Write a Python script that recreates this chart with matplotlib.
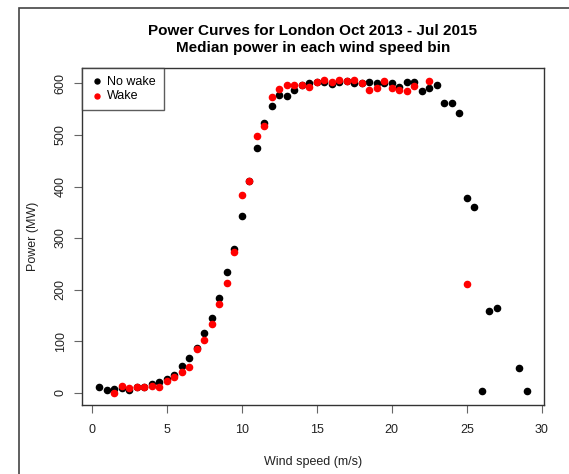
import numpy as np
import matplotlib
matplotlib.use('Agg')
import matplotlib.pyplot as plt
from matplotlib.patches import Rectangle

plt.rcParams['font.family'] = ['Liberation Sans', 'DejaVu Sans']

nan = np.nan

# wind speed bins (m/s)
wind = [0.5, 1.0, 1.5, 2.0, 2.5, 3.0, 3.5, 4.0, 4.5, 5.0,
        5.5, 6.0, 6.5, 7.0, 7.5, 8.0, 8.5, 9.0, 9.5, 10.0,
        10.5, 11.0, 11.5, 12.0, 12.5, 13.0, 13.5, 14.0, 14.5, 15.0,
        15.5, 16.0, 16.5, 17.0, 17.5, 18.0, 18.5, 19.0, 19.5, 20.0,
        20.5, 21.0, 21.5, 22.0, 22.5, 23.0, 23.5, 24.0, 24.5, 25.0,
        25.5, 26.0, 26.5, 27.0, 27.5, 28.0, 28.5, 29.0]

# median power, no wake (MW)
no_wake = [10, 6, 8, 9, 6, 10, 10, 16, 21, 26,
           34, 51, 68, 87, 115, 145, 184, 234, 279, 343,
           410, 475, 524, 556, 578, 575, 588, 597, 601, 603,
           603, 599, 603, 604, 600, 600, 603, 601, 601, 601,
           594, 603, 603, 586, 592, 597, 563, 562, 542, 377,
           361, 3, 158, 164, nan, nan, 48, 3]

# median power, wake (MW)
wake = [nan, nan, 0, 13, 9, 10, 10, 12, 10, 23,
        31, 41, 50, 85, 103, 133, 172, 213, 273, 383,
        410, 498, 517, 574, 590, 597, 597, 597, 594, 603,
        607, 602, 606, 604, 606, 600, 588, 591, 604, 592,
        587, 586, 596, nan, 604, nan, nan, nan, nan, 211,
        nan, nan, nan, nan, nan, nan, nan, nan]

fig = plt.figure(figsize=(5.69, 4.74), dpi=100)

# screenshot frame
fig.patches.append(Rectangle((19 / 569, -0.1), 1.2, (474 - 8) / 474 + 0.1,
                             transform=fig.transFigure, fill=False,
                             edgecolor='#444444', linewidth=1.2))

ax = fig.add_axes([82 / 569, (474 - 405) / 474, (544 - 82) / 569, (405 - 68) / 474])

ax.scatter(wind, no_wake, s=20, color='black', label='No wake', zorder=3)
ax.scatter(wind, wake, s=20, color='red', label='Wake', zorder=4)

ax.set_xlim(-0.64, 30.14)
ax.set_ylim(-24, 630)
ax.set_xticks([0, 5, 10, 15, 20, 25, 30])
ax.set_yticks([0, 100, 200, 300, 400, 500, 600])
ax.tick_params(direction='out', length=6, color='#666666', labelsize=9,
               labelcolor='#222222')
ax.tick_params(axis='x', pad=8)
ax.tick_params(axis='y', pad=5)
for lab in ax.get_yticklabels():
    lab.set_rotation(90)
    lab.set_va('center')
for s in ax.spines.values():
    s.set_color('#333333')
    s.set_linewidth(1.0)

ax.set_xlabel('Wind speed (m/s)', fontsize=9, color='#222222', labelpad=14)
ax.set_ylabel('Power (MW)', fontsize=9, color='#222222', labelpad=11)

fig.text(0.5 * (82 + 544) / 569, 1 - 31 / 474, 'Power Curves for London Oct 2013 - Jul 2015',
         ha='center', va='center', fontsize=11, fontweight='bold')
fig.text(0.5 * (82 + 544) / 569, 1 - 48 / 474, 'Median power in each wind speed bin',
         ha='center', va='center', fontsize=11, fontweight='bold')

leg = ax.legend(loc='upper left', borderaxespad=0, fancybox=False,
                edgecolor='#333333', fontsize=9, handletextpad=0.2,
                markerscale=0.8, borderpad=0.62, labelspacing=0.2,
                handlelength=1.2)
leg.get_frame().set_linewidth(1.0)

fig.savefig('out.png', dpi=100)
